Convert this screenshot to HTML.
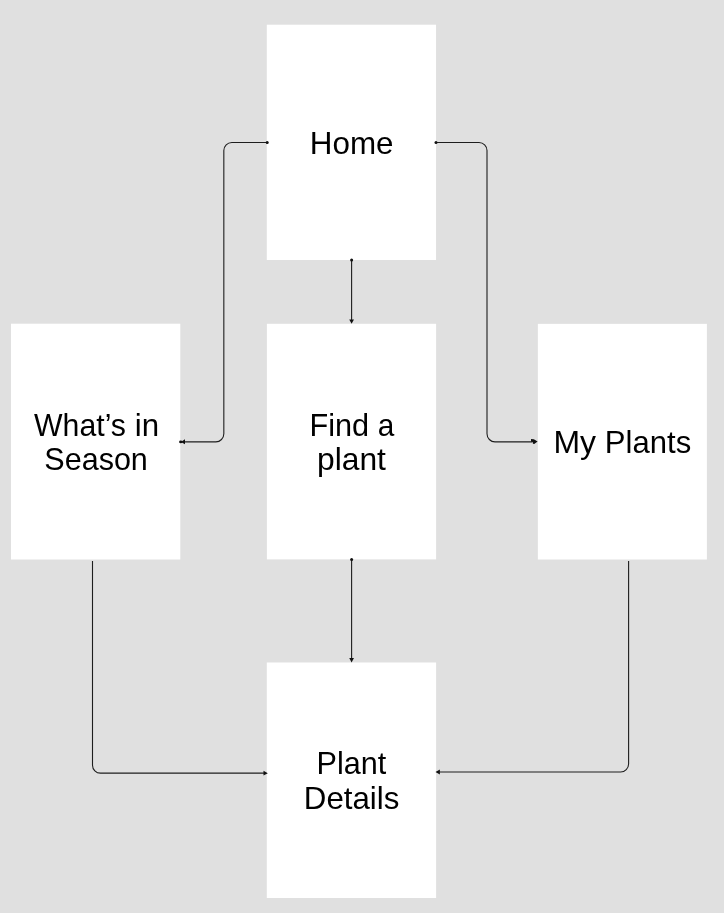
<!DOCTYPE html>
<html><head><meta charset="utf-8">
<style>
html,body{margin:0;padding:0;background:#e0e0e0;width:724px;height:913px;overflow:hidden}
svg{position:absolute;left:0;top:0;display:block;will-change:transform}
text{font-family:"Liberation Sans",sans-serif;font-size:32px;fill:#000}
</style></head><body>
<svg width="724" height="913" viewBox="0 0 724 913">
<rect x="0" y="0" width="724" height="913" fill="#e0e0e0"/>
<g fill="#fff">
<rect x="266.8" y="24.7" width="169.25" height="235.3"/>
<rect x="11.0" y="323.7" width="169.3" height="235.8"/>
<rect x="266.9" y="323.8" width="169.2" height="235.6"/>
<rect x="537.85" y="323.85" width="169.05" height="235.65"/>
<rect x="266.8" y="662.5" width="169.3" height="235.5"/>
</g>
<g fill="none" stroke="#1e1e1e" stroke-width="1.1">
<path d="M267.2 142.5 H231.83 A8 8 0 0 0 223.83 150.5 V433.83 A8 8 0 0 1 215.83 441.83 H184"/>
<path d="M436 142.5 H479 A8 8 0 0 1 487 150.5 V433.83 A8 8 0 0 0 495 441.83 H532"/>
<path d="M351.6 260 V320"/>
<path d="M351.6 559.4 V658.5"/>
<path d="M92.5 561 V765.17 A8 8 0 0 0 100.5 773.17 H264"/>
<path d="M628.6 561 V764 A8 8 0 0 1 620.6 772 H439.5"/>
</g>
<g fill="#111">
<circle cx="267.2" cy="142.5" r="1.5"/>
<circle cx="436" cy="142.5" r="1.5"/>
<circle cx="351.6" cy="260" r="1.5"/>
<circle cx="351.6" cy="559.4" r="1.5"/>
<ellipse cx="180.7" cy="441.9" rx="1.6" ry="1.4"/>
<path d="M185 439.2 L180.8 441.9 L185 444.3 Z"/>
<path d="M531 439.1 L533.8 439.3 L537.6 441.6 L534.2 443.9 L533 443.7 L532.5 441.9 L531 441.5 Z"/>
<path d="M349.25 319.5 L351.6 323.8 L353.95 319.5 Z"/>
<path d="M349.25 658 L351.6 662.4 L353.95 658 Z"/>
<path d="M263.5 770.85 L267.8 773.2 L263.5 775.55 Z"/>
<path d="M439.9 769.55 L435.5 772 L439.9 774.45 Z"/>
</g>
<g>
<text transform="matrix(0.9814 0 0 1 309.824 153.600)">Home</text>
<text transform="matrix(0.9451 0 0 1 34.067 435.700)">What’s</text>
<text transform="matrix(0.9764 0 0 1 134.710 435.700)">in</text>
<text transform="matrix(0.9543 0 0 1 44.313 470.300)">Season</text>
<text transform="matrix(0.9590 0 0 1 309.483 435.700)">Find</text>
<text transform="matrix(0.9308 0 0 1 377.735 435.700)">a</text>
<text transform="matrix(0.9941 0 0 1 316.950 470.100)">plant</text>
<text transform="matrix(0.9983 0 0 1 553.480 453.100)">My</text>
<text transform="matrix(0.9712 0 0 1 604.851 453.100)">Plants</text>
<text transform="matrix(0.9561 0 0 1 316.590 773.800)">Plant</text>
<text transform="matrix(0.9773 0 0 1 303.834 808.600)">Details</text>
</g>
</svg>
</body></html>
